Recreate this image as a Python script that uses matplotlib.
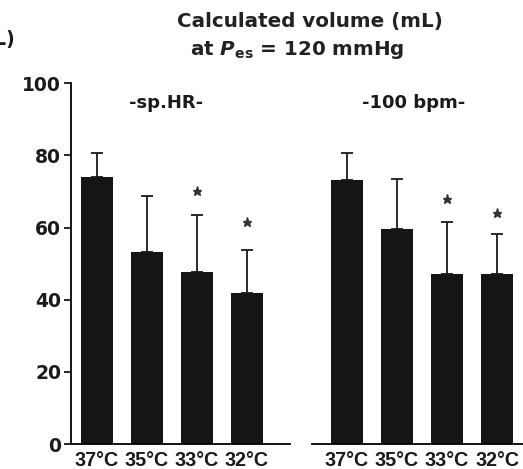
import matplotlib
matplotlib.use("Agg")
import matplotlib.pyplot as plt
import numpy as np

plt.rcParams['font.family'] = ['DejaVu Sans']
plt.rcParams['font.weight'] = 'bold'
plt.rcParams['mathtext.fontset'] = 'dejavusans'

categories = ["37°C", "35°C", "33°C", "32°C"]
sphr_mean = [73.9, 53.3, 47.6, 41.8]
sphr_err = [6.9, 15.5, 15.8, 12.0]
sphr_star = [None, None, 70.1, 61.5]
bpm_mean = [73.2, 59.6, 47.0, 47.0]
bpm_err = [7.6, 13.9, 14.5, 11.1]
bpm_star = [None, None, 67.8, 64.0]
yticks = [0, 20, 40, 60, 80, 100]

W, H = 523, 469
fig = plt.figure(figsize=(W / 100, H / 100), dpi=100)

def fx(px):
    return px / W

def fy(py):
    return 1 - py / H

y0, y1 = 444, 83.3
axL = fig.add_axes([fx(71), fy(y0), fx(290 - 71), fy(y1) - fy(y0)])
axR = fig.add_axes([fx(311.7), fy(y0), fx(523 - 311.7), fy(y1) - fy(y0)])

barc = '#151515'
txtc = '#1a1a1a'
x = np.arange(len(categories))

def draw(ax, mean, err, star, xlim):
    ax.bar(x, mean, width=0.64, color=barc, zorder=2)
    ax.errorbar(x, mean, yerr=[np.zeros(len(err)), err], fmt='none',
                ecolor='#1a1a1a', elinewidth=1.3, capsize=4, capthick=1.3, zorder=3)
    for xi, s in zip(x, star):
        if s is not None:
            ax.plot(xi, s, marker='*', markersize=6.5, color='#333333', zorder=4)
    ax.set_xlim(*xlim)
    ax.set_ylim(0, 100)
    ax.set_xticks(x)
    ax.set_xticklabels(categories, fontsize=14.2, fontweight='bold',
                       family=['Liberation Sans', 'DejaVu Sans'], color=txtc)
    ax.tick_params(axis='x', length=0, pad=5)
    for s in ['top', 'right']:
        ax.spines[s].set_visible(False)
    ax.spines['bottom'].set_linewidth(1.3)
    ax.spines['left'].set_linewidth(1.3)

draw(axL, sphr_mean, sphr_err, sphr_star, (-0.514, 3.866))
draw(axR, bpm_mean, bpm_err, bpm_star, (-0.706, 3.52))

axL.set_yticks(yticks)
axL.set_yticklabels([str(v) for v in yticks], fontsize=13.5, fontweight='bold', color=txtc)
axL.tick_params(axis='y', direction='out', length=5, width=1.2, pad=2)

axR.spines['left'].set_visible(False)
axR.set_yticks([])

fig.text(fx(166), fy(103), "-sp.HR-", ha='center', va='center', fontsize=13, fontweight='bold', color=txtc)
fig.text(fx(414), fy(103), "-100 bpm-", ha='center', va='center', fontsize=13, fontweight='bold', color=txtc)

fig.text(fx(310), fy(22), "Calculated volume (mL)", ha='center', va='center',
         fontsize=14.3, fontweight='bold', color='#222222')
fig.text(fx(297), fy(50), r"at $\boldsymbol{P}_{\mathbf{es}}$ = 120 mmHg", ha='center', va='center',
         fontsize=14.3, fontweight='bold', color='#222222')
fig.text(fx(15), fy(40), "(mL)", ha='right', va='center', fontsize=13.5, fontweight='bold', color=txtc)

fig.savefig("out.png", dpi=100)
